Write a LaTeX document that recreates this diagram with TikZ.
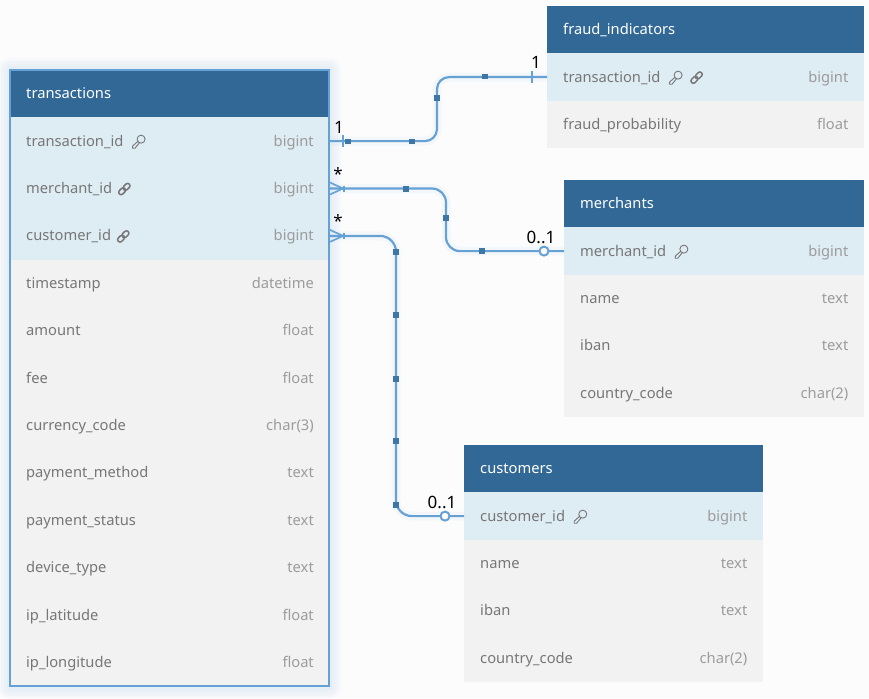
\documentclass[tikz,border=0pt]{standalone}
\usepackage{fontspec}
\setmainfont{Noto Sans}
\definecolor{bgc}{HTML}{FCFCFD}
\definecolor{headc}{HTML}{316896}
\definecolor{bluec}{HTML}{DEECF4}
\definecolor{greyc}{HTML}{F2F2F2}
\definecolor{linec}{HTML}{65A1D5}
\definecolor{handc}{HTML}{3E76A6}
\definecolor{namec}{HTML}{777777}
\definecolor{typec}{HTML}{9C9C9C}
\tikzset{
  cell/.style={rectangle,inner sep=0pt,outer sep=0pt,draw=none},
  headcell/.style={cell,fill=headc},
  rowk/.style={cell,fill=bluec},
  rowf/.style={cell,fill=bluec},
  rowb/.style={cell,fill=bluec},
  rown/.style={cell,fill=greyc},
  txtk/.style={font=\fontsize{14.7}{16}\selectfont\bfseries},
  txtb/.style={txtk},
  txtf/.style={font=\fontsize{14.7}{16}\selectfont},
  txtn/.style={txtf},
  titletxt/.style={text=white,font=\fontsize{14.7}{16}\selectfont\bfseries,inner sep=0pt,anchor=base west},
  nametxt/.style={text=namec,inner sep=0pt,anchor=base west},
  typetxt/.style={text=typec,inner sep=0pt,anchor=base east},
  conn/.style={draw=linec,line width=2.2pt},
  connglow/.style={draw=linec,line width=9pt,opacity=.05},
  mark line/.style={draw=linec,line width=1.6pt},
  handle/.style={rectangle,fill=handc,inner sep=0pt,minimum size=5.5pt,draw=none},
  ringend/.style={circle,draw=linec,line width=2pt,fill=white,inner sep=0pt,minimum size=9pt},
  card/.style={text=black,inner sep=0pt,font=\fontsize{17}{18}\selectfont},
}
\newcommand{\drawkey}[1]{%
  \begin{scope}[shift={(#1)},draw=namec,line width=.9pt,line join=round]
    \draw (2.5,-2.5) circle (4);
    \draw (-.6,-.4) -- (-6,4.4) -- (-6,6.6) -- (-3.6,6.6) -- (.8,1.2);
  \end{scope}}
\newcommand{\drawlink}[1]{%
  \begin{scope}[shift={(#1)},rotate=45,draw=namec,line width=1.5pt]
    \draw[rounded corners=2.4pt] (-7,-2.4) rectangle (.8,2.4);
    \draw[rounded corners=2.4pt] (-.8,-2.4) rectangle (7,2.4);
  \end{scope}}
\newcommand{\iconk}[1]{\drawkey{$(#1.east)+(15,0)$}}
\newcommand{\iconf}[1]{\drawlink{$(#1.east)+(12,0)$}}
\newcommand{\iconb}[1]{\drawkey{$(#1.east)+(15,0)$}\drawlink{$(#1.east)+(36,0)$}}
\newcommand{\iconn}[1]{}
% prefix, x1, x2, ytop, title, rows
\newcommand{\ertable}[6]{%
  \pgfmathsetmacro{\xmid}{(#2+#3)/2}
  \pgfmathsetmacro{\wid}{#3-#2}
  \pgfmathsetmacro{\ymid}{#4+23.7}
  \node[headcell,minimum width=\wid pt,minimum height=47.4pt] (#1-h) at (\xmid,\ymid) {};
  \node[titletxt] (#1-t) at ([xshift=16pt,yshift=-5pt]#1-h.west) {#5};
  \foreach \lab/\typ/\kind [count=\i] in {#6} {
    \pgfmathsetmacro{\yc}{#4+47.4*\i+23.7}
    \node[row\kind,minimum width=\wid pt,minimum height=47.6pt] (#1-\i) at (\xmid,\yc) {};
    \node[nametxt,txt\kind] (#1-\i-n) at ([xshift=16pt,yshift=-5pt]#1-\i.west) {\lab};
    \node[typetxt,txt\kind] (#1-\i-y) at ([xshift=-15pt,yshift=-5pt]#1-\i.east) {\typ};
    \csname icon\kind\endcsname{#1-\i-n}
  }
}
\usetikzlibrary{calc}
\begin{document}
\begin{tikzpicture}[x=1pt,y=-1pt]
\path[use as bounding box,fill=bgc] (0,0) rectangle (869,698);
% glow round the selected table
\foreach \g in {12,9,6,3}
  \fill[linec,opacity=.035,rounded corners=\g pt] (10-\g,70-\g) rectangle (329+\g,687+\g);

\ertable{fr}{547}{863.5}{6}{fraud\_indicators}{%
  transaction\_id/bigint/b,fraud\_probability/float/n}
\ertable{me}{564}{863.5}{180}{merchants}{%
  merchant\_id/bigint/k,name/text/n,iban/text/n,country\_code/char(2)/n}
\ertable{cu}{464}{762.5}{445}{customers}{%
  customer\_id/bigint/k,name/text/n,iban/text/n,country\_code/char(2)/n}
\ertable{tr}{10}{329}{70}{transactions}{%
  transaction\_id/bigint/k,merchant\_id/bigint/f,customer\_id/bigint/f,
  timestamp/datetime/n,amount/float/n,fee/float/n,currency\_code/char(3)/n,
  payment\_method/text/n,payment\_status/text/n,device\_type/text/n,
  ip\_latitude/float/n,ip\_longitude/float/n}
\draw[draw=linec,line width=2pt] (tr-h.north west) rectangle (tr-12.south east);

% bends of the connectors
\coordinate (b1) at (437,110);
\coordinate (b2) at (446,220);
\coordinate (b3) at (396,380);

% soft glow
\draw[connglow,rounded corners=12pt] (tr-1.east) -| (b1) |- (fr-1.west);
\draw[connglow,rounded corners=14pt] (tr-2.east) -| (b2) |- (me-1.west);
\draw[connglow,rounded corners=16pt] (tr-3.east) -| (b3) |- (cu-1.west);

% connectors
\draw[conn,rounded corners=12pt] (tr-1.east) -| (b1) |- (fr-1.west);
\draw[conn,rounded corners=14pt] (tr-2.east) -| (b2) |- (me-1.west);
\draw[conn,rounded corners=16pt] (tr-3.east) -| (b3) |- (cu-1.west);

% one-to-one ticks
\draw[mark line] ([xshift=14pt,yshift=6pt]tr-1.east) -- ([xshift=14pt,yshift=-6pt]tr-1.east);
\draw[mark line] ([xshift=-15pt,yshift=6pt]fr-1.west) -- ([xshift=-15pt,yshift=-6pt]fr-1.west);

% crow's feet
\foreach \r in {2,3} {
  \draw[mark line] ([xshift=1pt,yshift=6pt]tr-\r.east) -- ([xshift=14pt,yshift=0pt]tr-\r.east) -- ([xshift=1pt,yshift=-6pt]tr-\r.east);
  \draw[mark line] ([xshift=15pt,yshift=3pt]tr-\r.east) -- ([xshift=15pt,yshift=-3pt]tr-\r.east);
}

% zero-or-one rings
\node[ringend] (r1) at ([xshift=-20pt]me-1.west) {};
\node[ringend] (r2) at ([xshift=-19pt]cu-1.west) {};

% handles
\foreach \n/\x/\y in {a/348/141.7,b/412/141.7,c/437/98,d/485/76.7,
                      e/406/189,f/446/218,g/482/251,
                      h/396/252,i/396/315,j/396/379,k/396/441,l/396/505}
  \node[handle] (hd\n) at (\x,\y) {};

% cardinalities
\node[card] (c1) at (339,127) {1};
\node[card] (c2) at (536,62) {1};
\node[card] (c3) at (338,174) {*};
\node[card] (c4) at (541,237) {0..1};
\node[card] (c5) at (338,221) {*};
\node[card] (c6) at (442,502) {0..1};
\end{tikzpicture}
\end{document}
